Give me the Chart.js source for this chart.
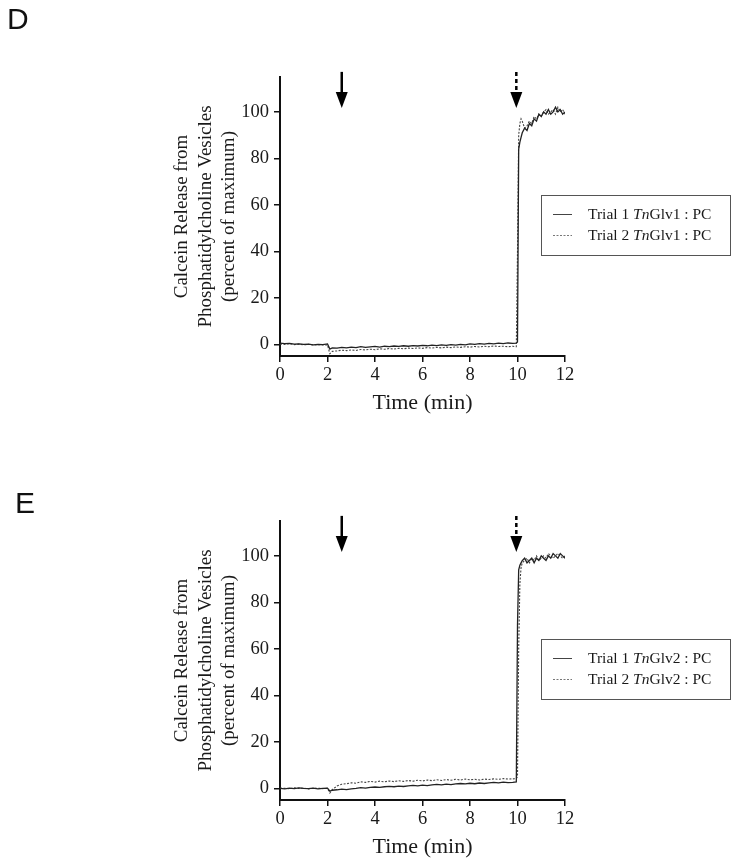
<!DOCTYPE html>
<html>
<head>
<meta charset="utf-8">
<script src="https://cdn.jsdelivr.net/npm/chart.js@4/dist/chart.umd.min.js"></script>
<style>
  body { margin: 0; background: #fff; }
  .panel { position: absolute; left: 0; width: 739px; }
  .tag { position: absolute; font-family: "Liberation Sans", Arial, sans-serif; font-size: 30px; color: #111; line-height: 1; }
</style>
</head>
<body>
<div class="panel" style="top:0;height:444px"><canvas id="chartD" width="739" height="444"></canvas></div>
<div class="panel" style="top:444px;height:420px"><canvas id="chartE" width="739" height="420"></canvas></div>
<div class="tag" style="left:7px;top:4px">D</div>
<div class="tag" style="left:15px;top:488px">E</div>
<script>
// time points (min)
const times = [0,0.2,0.4,0.6,0.8,1,1.2,1.4,1.6,1.8,2,2.1,2.2,2.4,2.6,2.8,3,3.2,3.4,3.6,3.8,4,4.2,4.4,4.6,4.8,5,5.2,5.4,5.6,5.8,6,6.2,6.4,6.6,6.8,7,7.2,7.4,7.6,7.8,8,8.2,8.4,8.6,8.8,9,9.2,9.4,9.6,9.8,9.95,10,10.05,10.1,10.15,10.2,10.3,10.4,10.5,10.6,10.7,10.8,10.9,11,11.1,11.2,11.3,11.4,11.5,11.6,11.7,11.8,11.9,12];

// panel D: TnGlv1
const dTrial1 = [0.5,0.3,0.4,0.1,0.2,0.0,0.1,-0.2,0.0,-0.1,0.2,-2.0,-1.5,
  -1.6,-1.3,-1.5,-1.2,-1.4,-1.0,-1.3,-1.1,-0.9,-1.2,-0.8,-1.0,-0.7,-0.9,-0.6,-0.8,-0.5,-0.7,
  -0.4,-0.6,-0.3,-0.5,-0.2,-0.4,-0.1,-0.3,0.0,-0.2,0.2,0.0,0.3,0.1,0.4,0.2,0.5,0.3,0.6,0.4,
  0.5,1.0,84,87,89,91,
  93,92,95,94,97,96,99,98,100,99,101,99,100,102,100,101,99,100];
const dTrial2 = [0.2,0.0,0.3,-0.1,0.1,-0.2,0.0,-0.3,-0.1,-0.2,-0.3,-4.0,-3.0,
  -2.8,-2.5,-2.7,-2.4,-2.6,-2.2,-2.4,-2.1,-2.3,-1.9,-2.1,-1.8,-2.0,-1.7,-1.9,-1.6,-1.8,-1.5,
  -1.7,-1.4,-1.6,-1.3,-1.5,-1.2,-1.4,-1.1,-1.3,-1.0,-1.2,-0.9,-1.1,-0.8,-1.0,-0.7,-0.9,-0.8,-1.0,-0.8,
  -1.0,40,90,95,97,96,
  93,94,96,95,98,97,99,98,100,101,99,100,101,99,102,100,101,99];

// panel E: TnGlv2
const eTrial1 = [0.0,-0.2,0.1,-0.1,0.2,0.0,-0.1,0.1,-0.2,0.0,0.1,-1.2,-0.8,
  -0.6,-0.3,-0.5,-0.2,0.0,0.3,0.1,0.4,0.6,0.4,0.7,0.9,0.7,1.0,0.8,1.1,1.3,1.1,
  1.4,1.2,1.5,1.7,1.5,1.8,1.6,1.9,2.1,1.9,2.2,2.0,2.3,2.1,2.4,2.6,2.4,2.7,2.5,2.6,
  2.8,70,94,96,97,98,
  99,97,98,99,97,99,98,100,99,98,100,99,101,100,99,101,100,99];
const eTrial2 = [0.1,0.0,-0.1,0.2,0.0,0.1,-0.2,0.0,0.1,-0.1,0.0,-2.0,-0.5,
  1.0,1.8,2.0,2.4,2.2,2.8,2.6,3.0,2.7,3.1,2.8,3.2,2.9,3.3,3.0,3.4,3.1,3.5,
  3.2,3.6,3.3,3.7,3.4,3.8,3.5,3.9,3.6,4.0,3.7,3.9,3.6,4.0,3.8,4.1,3.9,4.2,4.0,4.1,
  4.2,5,60,88,95,97,
  98,99,97,99,98,100,98,99,100,99,101,100,99,100,101,100,99,100];

const xTicks = [0,2,4,6,8,10,12];
const yTicks = [0,20,40,60,80,100];
const arrowTimes = [2.6, 9.95]; // solid arrow, dashed arrow

const serif = '"Liberation Serif", "Times New Roman", serif';
const ink = '#1a1a1a';

// arrows above the traces
const arrowPlugin = {
  id: 'arrows',
  afterDraw(chart) {
    const ctx = chart.ctx;
    const xs = chart.scales.x, ys = chart.scales.y;
    const tip = ys.getPixelForValue(100) - 4;
    arrowTimes.forEach((t, i) => {
      const x = xs.getPixelForValue(t);
      ctx.save();
      ctx.strokeStyle = '#000';
      ctx.fillStyle = '#000';
      ctx.lineWidth = 2.5;
      if (i === 1) ctx.setLineDash([4, 3]);
      ctx.beginPath();
      ctx.moveTo(x, tip - 36);
      ctx.lineTo(x, tip - 14);
      ctx.stroke();
      ctx.setLineDash([]);
      ctx.beginPath();
      ctx.moveTo(x - 6, tip - 16);
      ctx.lineTo(x + 6, tip - 16);
      ctx.lineTo(x, tip);
      ctx.closePath();
      ctx.fill();
      ctx.restore();
    });
  }
};

// boxed legend with italic species prefix
const legendBox = {
  id: 'legendBox',
  afterDraw(chart, args, opts) {
    const ctx = chart.ctx;
    const left = 541, top = 195, w = 189, h = 60;
    ctx.save();
    ctx.strokeStyle = '#555';
    ctx.lineWidth = 1;
    ctx.strokeRect(left + 0.5, top + 0.5, w, h);
    const rows = [top + 19, top + 40];
    rows.forEach((y, i) => {
      ctx.strokeStyle = i === 0 ? '#444' : '#777';
      ctx.setLineDash(i === 0 ? [] : [2, 1.5]);
      ctx.beginPath();
      ctx.moveTo(553, y + 0.5);
      ctx.lineTo(572, y + 0.5);
      ctx.stroke();
      ctx.setLineDash([]);
      ctx.fillStyle = ink;
      ctx.textBaseline = 'middle';
      let x = 588;
      const parts = [['Trial ' + (i + 1) + ' ', ''], ['Tn', 'italic '], [opts.gene + ' : PC', '']];
      parts.forEach(([s, st]) => {
        ctx.font = st + '15.5px ' + serif;
        ctx.fillText(s, x, y + 1);
        x += ctx.measureText(s).width;
      });
    });
    ctx.restore();
  }
};

function makePanel(id, trial1, trial2, gene, bottomPad) {
  new Chart(document.getElementById(id), {
    type: 'line',
    data: {
      datasets: [{
        label: 'Trial 1 Tn' + gene + ' : PC',
        data: times.map((t, i) => ({ x: t, y: trial1[i] })),
        borderColor: '#222',
        borderWidth: 1.3,
        pointRadius: 0,
        tension: 0
      }, {
        label: 'Trial 2 Tn' + gene + ' : PC',
        data: times.map((t, i) => ({ x: t, y: trial2[i] })),
        borderColor: '#444',
        borderWidth: 1.1,
        borderDash: [2, 1.5],
        pointRadius: 0,
        tension: 0
      }]
    },
    options: {
      responsive: false,
      animation: false,
      layout: { padding: { left: 170, right: 174, top: 77, bottom: bottomPad } },
      plugins: {
        legend: { display: false },
        tooltip: { enabled: false },
        legendBox: { gene: gene }
      },
      scales: {
        x: {
          type: 'linear',
          min: 0,
          max: 12,
          afterBuildTicks: s => { s.ticks = xTicks.map(v => ({ value: v })); },
          afterFit: s => { s.height = 60; },
          border: { display: true, color: '#111', width: 2 },
          grid: { display: true, drawOnChartArea: false, drawTicks: true, tickLength: 6, color: '#111', lineWidth: 1.5 },
          ticks: { color: ink, font: { family: serif, size: 18.5 }, padding: 2, maxRotation: 0 },
          title: { display: true, text: 'Time (min)', color: ink, font: { family: serif, size: 22 }, padding: 0 }
        },
        y: {
          min: -5,
          max: 115,
          afterBuildTicks: s => { s.ticks = yTicks.map(v => ({ value: v })); },
          afterFit: s => { s.width = 110; },
          border: { display: true, color: '#111', width: 2 },
          grid: { display: true, drawOnChartArea: false, drawTicks: true, tickLength: 6, color: '#111', lineWidth: 1.5 },
          ticks: { color: ink, font: { family: serif, size: 18.5 }, padding: 5 },
          title: {
            display: true,
            text: ['Calcein Release from', 'Phosphatidylcholine Vesicles', '(percent of maximum)'],
            color: ink,
            font: { family: serif, size: 19, lineHeight: 1.25 },
            padding: 0
          }
        }
      }
    },
    plugins: [arrowPlugin, legendBox]
  });
}

makePanel('chartD', dTrial1, dTrial2, 'Glv1', 28);
makePanel('chartE', eTrial1, eTrial2, 'Glv2', 4);
</script>
</body>
</html>
